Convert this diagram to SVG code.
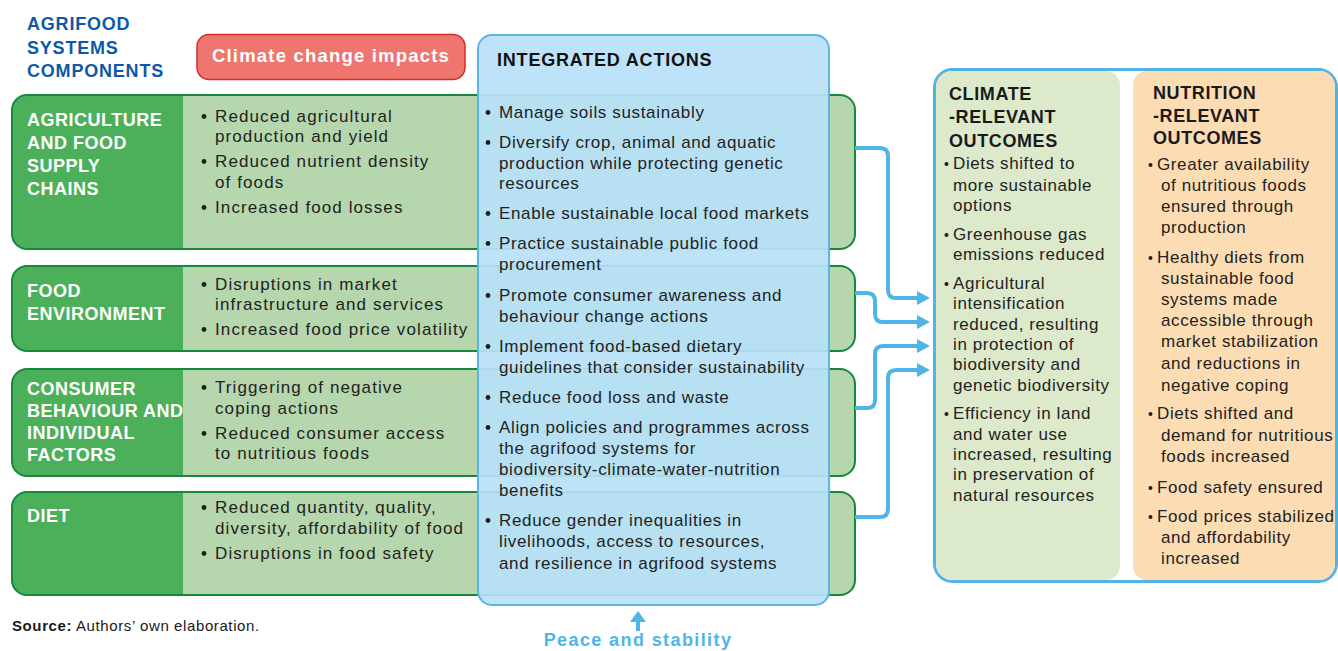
<svg xmlns="http://www.w3.org/2000/svg" width="1338" height="651" viewBox="0 0 1338 651">
  <defs>
    <style>
      .hdr { font-family: "Liberation Sans", Arial, sans-serif; font-weight: bold; font-size: 18px; letter-spacing: 0.8px; }
      .blue-hdr { fill: #0f58a6; }
      .row-title { font-family: "Liberation Sans", Arial, sans-serif; font-weight: bold; font-size: 18px; letter-spacing: 0.5px; fill: #ffffff; }
      .row-txt { font-family: "Liberation Sans", Arial, sans-serif; font-size: 17px; letter-spacing: 1.1px; fill: #222222; }
      .act-txt { font-family: "Liberation Sans", Arial, sans-serif; font-size: 17px; letter-spacing: 0.65px; fill: #222222; }
      .out-txt { font-family: "Liberation Sans", Arial, sans-serif; font-size: 17px; letter-spacing: 0.6px; fill: #222222; }
      .out-title { font-family: "Liberation Sans", Arial, sans-serif; font-weight: bold; font-size: 18px; letter-spacing: 0.6px; fill: #1a1a1a; }
      .row-frame { fill: none; stroke: #17873c; stroke-width: 2; }
      .row-light { fill: #b6d7ad; }
      .row-dark { fill: #4caf5a; }
      .dot { fill: #1e1e1e; }
      .conn { fill: none; stroke: #4fb5e8; stroke-width: 4; stroke-linejoin: round; }
    </style>
    <marker id="arrow" viewBox="0 0 14 14" refX="1" refY="7" markerWidth="14" markerHeight="14" markerUnits="userSpaceOnUse" orient="auto">
      <path d="M0,0 L13,7 L0,14 Z" fill="#4fb5e8"/>
    </marker>
  </defs>

  <rect width="1338" height="651" fill="#ffffff"/>

  <!-- column heading -->
  <g id="components-heading" class="hdr blue-hdr">
    <text x="27" y="30">AGRIFOOD</text>
    <text x="27" y="54">SYSTEMS</text>
    <text x="27" y="77">COMPONENTS</text>
  </g>

  <!-- climate change impacts label -->
  <g id="climate-impacts">
    <rect x="197" y="34.5" width="268" height="45" rx="12" fill="#ee766e" stroke="#d62b2b" stroke-width="1.5"/>
    <text x="331" y="62" text-anchor="middle" font-family="Liberation Sans, Arial, sans-serif" font-weight="bold" font-size="18.5" letter-spacing="1.2" fill="#ffffff">Climate change impacts</text>
  </g>

  <!-- row 1 -->
  <g id="row-agriculture">
    <rect class="row-light" x="12" y="95" width="843" height="154" rx="15"/>
    <path class="row-dark" d="M183,95 H27 A15,15 0 0 0 12,110 V234 A15,15 0 0 0 27,249 H183 Z"/>
    <rect class="row-frame" x="12" y="95" width="843" height="154" rx="15"/>
    <g class="row-title">
      <text x="27" y="126">AGRICULTURE</text>
      <text x="27" y="149">AND FOOD</text>
      <text x="27" y="172">SUPPLY</text>
      <text x="27" y="195">CHAINS</text>
    </g>
    <g class="row-txt">
      <text x="215" y="122">Reduced agricultural</text>
      <text x="215" y="142">production and yield</text>
      <text x="215" y="167">Reduced nutrient density</text>
      <text x="215" y="188">of foods</text>
      <text x="215" y="213">Increased food losses</text>
    </g>
    <g class="dot">
      <circle cx="204" cy="116.5" r="2.4"/>
      <circle cx="204" cy="161.5" r="2.4"/>
      <circle cx="204" cy="207.5" r="2.4"/>
    </g>
  </g>

  <!-- row 2 -->
  <g id="row-food-environment">
    <rect class="row-light" x="12" y="266" width="843" height="85" rx="15"/>
    <path class="row-dark" d="M183,266 H27 A15,15 0 0 0 12,281 V336 A15,15 0 0 0 27,351 H183 Z"/>
    <rect class="row-frame" x="12" y="266" width="843" height="85" rx="15"/>
    <g class="row-title">
      <text x="27" y="297">FOOD</text>
      <text x="27" y="320">ENVIRONMENT</text>
    </g>
    <g class="row-txt">
      <text x="215" y="290">Disruptions in market</text>
      <text x="215" y="310">infrastructure and services</text>
      <text x="215" y="335">Increased food price volatility</text>
    </g>
    <g class="dot">
      <circle cx="204" cy="284.5" r="2.4"/>
      <circle cx="204" cy="329.5" r="2.4"/>
    </g>
  </g>

  <!-- row 3 -->
  <g id="row-consumer">
    <rect class="row-light" x="12" y="369" width="843" height="107" rx="15"/>
    <path class="row-dark" d="M183,369 H27 A15,15 0 0 0 12,384 V461 A15,15 0 0 0 27,476 H183 Z"/>
    <rect class="row-frame" x="12" y="369" width="843" height="107" rx="15"/>
    <g class="row-title">
      <text x="27" y="395">CONSUMER</text>
      <text x="27" y="417">BEHAVIOUR AND</text>
      <text x="27" y="439">INDIVIDUAL</text>
      <text x="27" y="461">FACTORS</text>
    </g>
    <g class="row-txt">
      <text x="215" y="393">Triggering of negative</text>
      <text x="215" y="414">coping actions</text>
      <text x="215" y="439">Reduced consumer access</text>
      <text x="215" y="459">to nutritious foods</text>
    </g>
    <g class="dot">
      <circle cx="204" cy="387.5" r="2.4"/>
      <circle cx="204" cy="433.5" r="2.4"/>
    </g>
  </g>

  <!-- row 4 -->
  <g id="row-diet">
    <rect class="row-light" x="12" y="492" width="843" height="103" rx="15"/>
    <path class="row-dark" d="M183,492 H27 A15,15 0 0 0 12,507 V580 A15,15 0 0 0 27,595 H183 Z"/>
    <rect class="row-frame" x="12" y="492" width="843" height="103" rx="15"/>
    <g class="row-title">
      <text x="27" y="522">DIET</text>
    </g>
    <g class="row-txt">
      <text x="215" y="513">Reduced quantity, quality,</text>
      <text x="215" y="534">diversity, affordability of food</text>
      <text x="215" y="559">Disruptions in food safety</text>
    </g>
    <g class="dot">
      <circle cx="204" cy="507.5" r="2.4"/>
      <circle cx="204" cy="553.5" r="2.4"/>
    </g>
  </g>

  <!-- integrated actions panel, laid over the rows -->
  <g id="integrated-actions">
    <rect x="478" y="35" width="351" height="570" rx="14" fill="#b9e1f8" fill-opacity="0.92" stroke="#5ab4e6" stroke-width="2"/>
    <text class="hdr" x="497" y="66" fill="#111111">INTEGRATED ACTIONS</text>
    <g class="act-txt">
      <text x="499" y="118">Manage soils sustainably</text>
      <text x="499" y="148">Diversify crop, animal and aquatic</text>
      <text x="499" y="169">production while protecting genetic</text>
      <text x="499" y="189">resources</text>
      <text x="499" y="219">Enable sustainable local food markets</text>
      <text x="499" y="249">Practice sustainable public food</text>
      <text x="499" y="270">procurement</text>
      <text x="499" y="301">Promote consumer awareness and</text>
      <text x="499" y="322">behaviour change actions</text>
      <text x="499" y="352">Implement food-based dietary</text>
      <text x="499" y="373">guidelines that consider sustainability</text>
      <text x="499" y="403">Reduce food loss and waste</text>
      <text x="499" y="433">Align policies and programmes across</text>
      <text x="499" y="454">the agrifood systems for</text>
      <text x="499" y="475">biodiversity-climate-water-nutrition</text>
      <text x="499" y="496">benefits</text>
      <text x="499" y="526">Reduce gender inequalities in</text>
      <text x="499" y="547">livelihoods, access to resources,</text>
      <text x="499" y="569">and resilience in agrifood systems</text>
    </g>
    <g class="dot">
      <circle cx="488" cy="112.5" r="2.4"/>
      <circle cx="488" cy="142.5" r="2.4"/>
      <circle cx="488" cy="213.5" r="2.4"/>
      <circle cx="488" cy="243.5" r="2.4"/>
      <circle cx="488" cy="295.5" r="2.4"/>
      <circle cx="488" cy="346.5" r="2.4"/>
      <circle cx="488" cy="397.5" r="2.4"/>
      <circle cx="488" cy="427.5" r="2.4"/>
      <circle cx="488" cy="520.5" r="2.4"/>
    </g>
  </g>

  <!-- connectors from the rows to the outcomes -->
  <g id="connectors" class="conn">
    <path d="M855,148 H880 Q888,148 888,156 V290 Q888,298 896,298 H918" marker-end="url(#arrow)"/>
    <path d="M855,293 H867 Q875,293 875,301 V314 Q875,322 883,322 H918" marker-end="url(#arrow)"/>
    <path d="M855,408 H867 Q875,408 875,400 V354 Q875,346 883,346 H918" marker-end="url(#arrow)"/>
    <path d="M855,517 H880 Q888,517 888,509 V378 Q888,370 896,370 H918" marker-end="url(#arrow)"/>
  </g>

  <!-- outcomes frame -->
  <g id="outcomes">
    <rect x="934.5" y="69.5" width="402" height="512" rx="18" fill="#ffffff" stroke="#52b3e6" stroke-width="3"/>

    <g id="climate-outcomes">
      <path d="M936,86 A16,16 0 0 1 952,71 H1106 A14,14 0 0 1 1120,85 V566 A14,14 0 0 1 1106,580 H952 A16,16 0 0 1 936,564 Z" fill="#dde9cb"/>
      <g class="out-title">
        <text x="949" y="100">CLIMATE</text>
        <text x="949" y="123">-RELEVANT</text>
        <text x="949" y="147">OUTCOMES</text>
      </g>
      <g class="out-txt">
        <text x="953" y="169">Diets shifted to</text>
        <text x="953" y="191">more sustainable</text>
        <text x="953" y="211">options</text>
        <text x="953" y="240">Greenhouse gas</text>
        <text x="953" y="260">emissions reduced</text>
        <text x="953" y="289">Agricultural</text>
        <text x="953" y="309">intensification</text>
        <text x="953" y="330">reduced, resulting</text>
        <text x="953" y="350">in protection of</text>
        <text x="953" y="370">biodiversity and</text>
        <text x="953" y="391">genetic biodiversity</text>
        <text x="953" y="419">Efficiency in land</text>
        <text x="953" y="440">and water use</text>
        <text x="953" y="460">increased, resulting</text>
        <text x="953" y="480">in preservation of</text>
        <text x="953" y="501">natural resources</text>
      </g>
      <g class="dot">
        <circle cx="946.5" cy="164" r="2"/>
        <circle cx="946.5" cy="235" r="2"/>
        <circle cx="946.5" cy="284" r="2"/>
        <circle cx="946.5" cy="414" r="2"/>
      </g>
    </g>

    <g id="nutrition-outcomes">
      <path d="M1133,85 A14,14 0 0 1 1147,71 H1320 A15,15 0 0 1 1335,86 V564 A16,16 0 0 1 1319,580 H1147 A14,14 0 0 1 1133,566 Z" fill="#fcdcb3"/>
      <g class="out-title">
        <text x="1153" y="99">NUTRITION</text>
        <text x="1153" y="122">-RELEVANT</text>
        <text x="1153" y="144">OUTCOMES</text>
      </g>
      <g class="out-txt">
        <text x="1157" y="170">Greater availability</text>
        <text x="1161" y="191">of nutritious foods</text>
        <text x="1161" y="212">ensured through</text>
        <text x="1161" y="233">production</text>
        <text x="1157" y="263">Healthy diets from</text>
        <text x="1161" y="284">sustainable food</text>
        <text x="1161" y="305">systems made</text>
        <text x="1161" y="326">accessible through</text>
        <text x="1161" y="347">market stabilization</text>
        <text x="1161" y="369">and reductions in</text>
        <text x="1161" y="391">negative coping</text>
        <text x="1157" y="419">Diets shifted and</text>
        <text x="1161" y="441">demand for nutritious</text>
        <text x="1161" y="462">foods increased</text>
        <text x="1157" y="493">Food safety ensured</text>
        <text x="1157" y="522">Food prices stabilized</text>
        <text x="1161" y="543">and affordability</text>
        <text x="1161" y="564">increased</text>
      </g>
      <g class="dot">
        <circle cx="1150.5" cy="165" r="2"/>
        <circle cx="1150.5" cy="258" r="2"/>
        <circle cx="1150.5" cy="414" r="2"/>
        <circle cx="1150.5" cy="488" r="2"/>
        <circle cx="1150.5" cy="517" r="2"/>
      </g>
    </g>
  </g>

  <!-- enabling condition below the actions panel -->
  <g id="peace-stability">
    <line x1="638" y1="631" x2="638" y2="620" stroke="#4fb5e8" stroke-width="4"/>
    <path d="M630,622 L638,611 L646,622 Z" fill="#4fb5e8"/>
    <text x="638" y="646" text-anchor="middle" font-family="Liberation Sans, Arial, sans-serif" font-weight="bold" font-size="18" letter-spacing="1.4" fill="#4fb5e8">Peace and stability</text>
  </g>

  <!-- source line -->
  <g id="source">
    <text x="12" y="631" font-family="Liberation Sans, Arial, sans-serif" font-size="15" letter-spacing="0.6" fill="#1a1a1a"><tspan font-weight="bold">Source:</tspan> Authors’ own elaboration.</text>
  </g>
</svg>
